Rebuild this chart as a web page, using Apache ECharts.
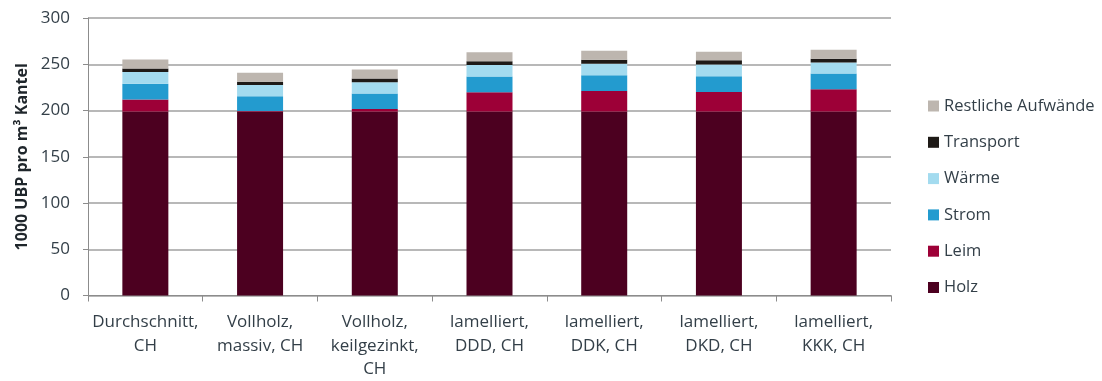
<!DOCTYPE html>
<html>
<head>
<meta charset="utf-8">
<script src="https://cdn.jsdelivr.net/npm/echarts@6/dist/echarts.min.js"></script>
<style>
  html, body { margin: 0; padding: 0; background: #fff; }
  #chart { width: 1102px; height: 381px; }
</style>
</head>
<body>
<div id="chart"></div>
<script>
// Umweltbelastung pro m³ Kantel, nach Herstellungsvariante (1000 UBP)
const categories = [
  'Durchschnitt,\nCH',
  'Vollholz,\nmassiv, CH',
  'Vollholz,\nkeilgezinkt,\nCH',
  'lamelliert,\nDDD, CH',
  'lamelliert,\nDDK, CH',
  'lamelliert,\nDKD, CH',
  'lamelliert,\nKKK, CH'
];
const holz      = [199, 199, 199, 199, 199, 199, 199];
const leim      = [13, 0.5, 2.5, 20.7, 22, 21, 24];
const strom     = [17, 16, 17, 17, 17, 17, 17];
const waerme    = [12.5, 12, 12, 12.5, 12.5, 12.6, 12];
const transport = [4, 3.6, 4, 4, 4.3, 4.6, 4];
const restliche = [9.7, 9.7, 9.8, 9.7, 9.7, 9.3, 9.7];
const yTicks = { min: 0, max: 300, interval: 50 };

const seriesDefs = [
  { name: 'Holz', data: holz, color: '#4C0020' },
  { name: 'Leim', data: leim, color: '#9D0037' },
  { name: 'Strom', data: strom, color: '#239BCF' },
  { name: 'Wärme', data: waerme, color: '#A3DBEF' },
  { name: 'Transport', data: transport, color: '#1E1A17' },
  { name: 'Restliche Aufwände', data: restliche, color: '#BDB6AF' }
];

const textColor = '#333F48';
const font = '"Open Sans", "Noto Sans", sans-serif';

const chart = echarts.init(document.getElementById('chart'), null, { renderer: 'canvas' });
chart.setOption({
  animation: false,
  backgroundColor: '#ffffff',
  grid: { left: 88, right: 211, top: 18, bottom: 84, containLabel: false },
  legend: {
    orient: 'vertical',
    left: 923,
    top: 92.5,
    itemWidth: 11,
    itemHeight: 11,
    itemGap: 19.3,
    icon: 'rect',
    data: seriesDefs.map(s => s.name).reverse(),
    textStyle: { color: textColor, fontSize: 16.5, fontFamily: font, padding: [0, 0, 0, 0] }
  },
  xAxis: {
    type: 'category',
    data: categories,
    axisLine: { lineStyle: { color: '#8C8C8C', width: 1 } },
    axisTick: { show: true, length: 6, lineStyle: { color: '#8C8C8C' } },
    axisLabel: {
      color: textColor, fontSize: 17, fontFamily: font,
      lineHeight: 23.5, margin: 15, interval: 0
    }
  },
  yAxis: {
    type: 'value',
    min: yTicks.min, max: yTicks.max, interval: yTicks.interval,
    name: '1000 UBP pro m³ Kantel',
    nameLocation: 'middle',
    nameGap: 58,
    nameTextStyle: { color: '#1F262B', fontSize: 16, fontWeight: 'bold', fontFamily: font },
    axisLine: { show: true, lineStyle: { color: '#8C8C8C', width: 1 } },
    axisTick: { show: true, length: 5, lineStyle: { color: '#8C8C8C' } },
    axisLabel: { color: textColor, fontSize: 17, fontFamily: font, margin: 18 },
    splitLine: { lineStyle: { color: '#A0A0A0', width: 1.5 } }
  },
  series: seriesDefs.map(s => ({
    name: s.name,
    type: 'bar',
    stack: 'total',
    barWidth: 46,
    data: s.data,
    itemStyle: { color: s.color }
  }))
});
</script>
</body>
</html>
